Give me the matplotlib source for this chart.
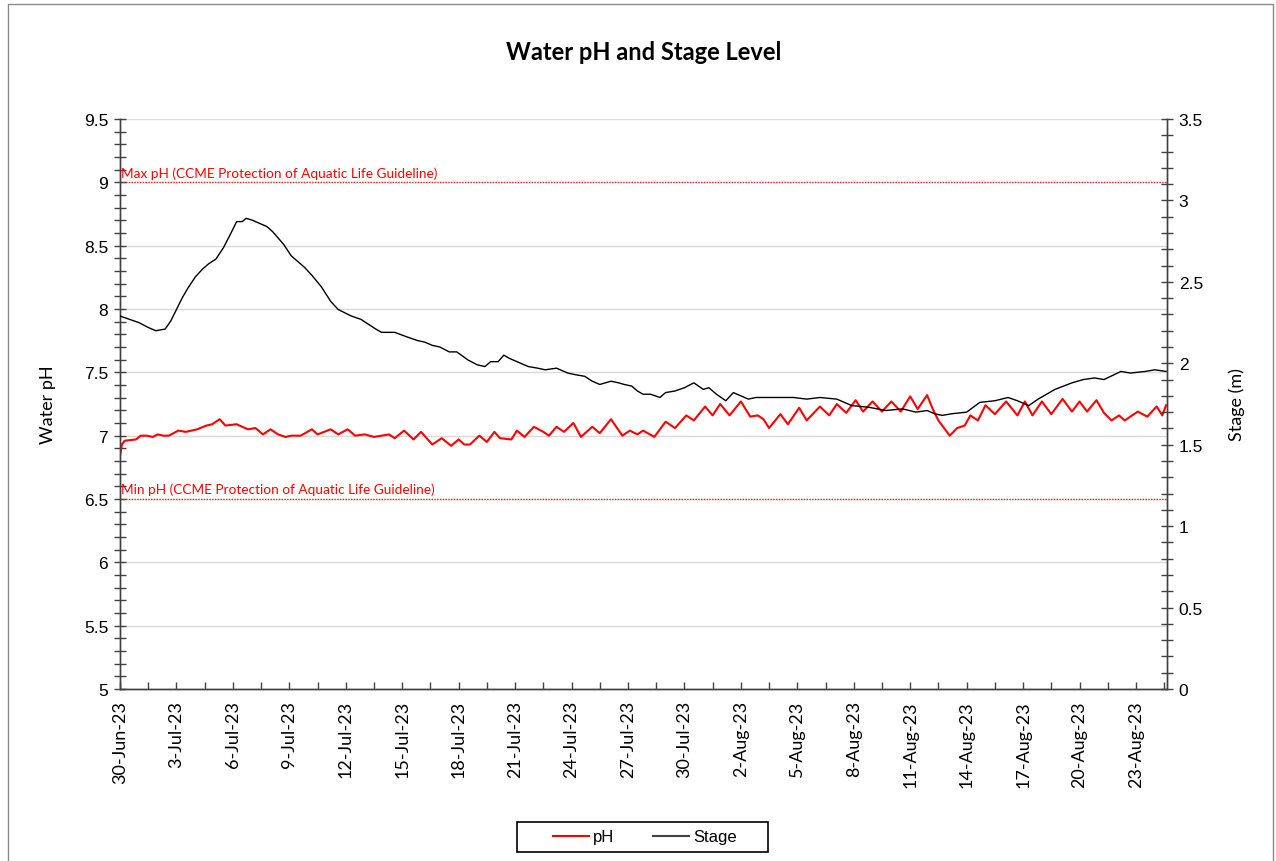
import matplotlib
matplotlib.use("Agg")
import matplotlib.pyplot as plt
import matplotlib.dates as mdates
import numpy as np
import pandas as pd
from matplotlib.patches import Rectangle

# ---------------- data ----------------
start_date = "2023-06-30"

stage_day = [0.0, 0.5, 1.0, 1.5, 1.9, 2.4, 2.7, 3.0, 3.3, 3.6, 4.0, 4.4, 4.7, 5.1, 5.5, 5.9,
             6.2, 6.5, 6.7, 7.0, 7.4, 7.8, 8.1, 8.4, 8.7, 9.1, 9.8, 10.2, 10.7, 11.2, 11.6,
             12.3, 12.8, 13.2, 13.6, 13.9, 14.6, 15.3, 15.8, 16.2, 16.6, 17.0, 17.5, 17.9,
             18.5, 19.0, 19.4, 19.7, 20.1, 20.4, 20.7, 21.1, 21.7, 22.2, 22.6, 23.2, 23.8,
             24.2, 24.7, 25.1, 25.5, 26.1, 26.5, 26.8, 27.2, 27.5, 27.8, 28.2, 28.7, 29.0,
             29.5, 30.0, 30.5, 31.0, 31.3, 31.7, 32.2, 32.6, 33.0, 33.4, 33.8, 34.5, 35.2,
             35.8, 36.5, 37.2, 38.1, 38.9, 39.8, 40.7, 41.6, 42.3, 42.9, 43.3, 43.7, 44.2,
             45.0, 45.7, 46.5, 47.2, 47.7, 48.3, 48.8, 49.7, 50.6, 51.2, 51.8, 52.3, 53.2,
             53.7, 54.5, 55.0, 55.6]
stage_m = [2.29, 2.27, 2.25, 2.22, 2.20, 2.21, 2.26, 2.33, 2.40, 2.46, 2.53, 2.58, 2.61, 2.64,
           2.71, 2.80, 2.87, 2.87, 2.89, 2.88, 2.86, 2.84, 2.81, 2.77, 2.73, 2.66, 2.59, 2.54,
           2.47, 2.38, 2.33, 2.29, 2.27, 2.24, 2.21, 2.19, 2.19, 2.16, 2.14, 2.13, 2.11, 2.10,
           2.07, 2.07, 2.02, 1.99, 1.98, 2.01, 2.01, 2.05, 2.03, 2.01, 1.98, 1.97, 1.96, 1.97,
           1.94, 1.93, 1.92, 1.89, 1.87, 1.89, 1.88, 1.87, 1.86, 1.83, 1.81, 1.81, 1.79, 1.82,
           1.83, 1.85, 1.88, 1.84, 1.85, 1.81, 1.77, 1.82, 1.80, 1.78, 1.79, 1.79, 1.79, 1.79,
           1.78, 1.79, 1.78, 1.74, 1.73, 1.71, 1.72, 1.70, 1.71, 1.69, 1.68, 1.69, 1.70, 1.76,
           1.77, 1.79, 1.77, 1.74, 1.78, 1.84, 1.88, 1.90, 1.91, 1.90, 1.95, 1.94, 1.95, 1.96,
           1.95]

ph_day = [0.0, 0.1, 0.25, 0.85, 1.1, 1.4, 1.75, 2.0, 2.3, 2.6, 3.1, 3.5, 4.1, 4.6, 4.9, 5.3,
          5.6, 6.2, 6.8, 7.2, 7.6, 8.0, 8.4, 8.8, 9.1, 9.6, 10.2, 10.5, 11.2, 11.6, 12.1,
          12.5, 13.0, 13.5, 14.3, 14.6, 15.1, 15.6, 16.0, 16.6, 17.1, 17.6, 18.0, 18.3, 18.6,
          19.1, 19.5, 19.9, 20.2, 20.8, 21.1, 21.5, 22.0, 22.5, 22.8, 23.2, 23.6, 24.1, 24.5,
          25.1, 25.5, 26.1, 26.7, 27.1, 27.5, 27.8, 28.4, 29.0, 29.5, 30.1, 30.5, 31.1, 31.5,
          31.9, 32.4, 33.0, 33.5, 33.9, 34.2, 34.5, 35.1, 35.5, 36.1, 36.5, 37.2, 37.7, 38.1,
          38.6, 39.1, 39.5, 40.0, 40.5, 41.0, 41.5, 42.0, 42.4, 42.9, 43.2, 43.5, 43.8, 44.1,
          44.5, 44.9, 45.2, 45.6, 46.0, 46.5, 47.1, 47.7, 48.1, 48.5, 49.0, 49.5, 50.1, 50.6,
          51.0, 51.4, 51.9, 52.3, 52.7, 53.1, 53.4, 54.1, 54.6, 55.1, 55.4, 55.6]
ph_val = [6.84, 6.93, 6.96, 6.97, 7.00, 7.00, 6.99, 7.01, 7.00, 7.00, 7.04, 7.03, 7.05, 7.08,
          7.09, 7.13, 7.08, 7.09, 7.05, 7.06, 7.01, 7.05, 7.01, 6.99, 7.00, 7.00, 7.05, 7.01,
          7.05, 7.01, 7.05, 7.00, 7.01, 6.99, 7.01, 6.98, 7.04, 6.97, 7.03, 6.93, 6.98, 6.92,
          6.97, 6.93, 6.93, 7.00, 6.95, 7.03, 6.98, 6.97, 7.04, 6.99, 7.07, 7.03, 7.00, 7.07,
          7.03, 7.10, 6.99, 7.07, 7.02, 7.13, 7.00, 7.04, 7.01, 7.04, 6.99, 7.11, 7.06, 7.16,
          7.12, 7.23, 7.16, 7.25, 7.16, 7.27, 7.15, 7.16, 7.13, 7.06, 7.17, 7.09, 7.22, 7.12,
          7.23, 7.16, 7.25, 7.18, 7.28, 7.19, 7.27, 7.19, 7.27, 7.19, 7.31, 7.21, 7.32, 7.21,
          7.12, 7.06, 7.00, 7.06, 7.08, 7.16, 7.12, 7.24, 7.17, 7.27, 7.16, 7.27, 7.16, 7.27,
          7.17, 7.29, 7.19, 7.27, 7.19, 7.28, 7.18, 7.12, 7.16, 7.12, 7.19, 7.15, 7.23, 7.16,
          7.24]

ph_max_guideline = 9.0
ph_min_guideline = 6.5
max_label = "Max pH (CCME Protection of Aquatic Life Guideline)"
min_label = "Min pH (CCME Protection of Aquatic Life Guideline)"

title = "Water pH and Stage Level"
left_label = "Water pH"
right_label = "Stage (m)"
end_offset_days = 55.65

# ---------------- figure ----------------
t0 = pd.Timestamp(start_date)
stage_t = t0 + pd.to_timedelta(stage_day, unit="D")
ph_t = t0 + pd.to_timedelta(ph_day, unit="D")
t_end = t0 + pd.to_timedelta(end_offset_days, unit="D")

W, H = 1276, 862
fig = plt.figure(figsize=(W / 100, H / 100), dpi=100)
fig.patch.set_facecolor("white")
fig.patches.append(Rectangle((8 / W, -0.01), (1273 - 8) / W, 1.01 - 5 / H,
                             transform=fig.transFigure, fill=False,
                             edgecolor="#8c8c8c", linewidth=1.0))

ax = fig.add_axes([120 / W, 1 - 690 / H, (1167 - 120) / W, (690 - 120) / H])
ax2 = ax.twinx()

tick_font = "Liberation Sans"
lab_font = "Lato"

ax.set_ylim(5, 9.5)
ax.set_yticks(np.arange(5, 9.51, 0.5))
ax.set_yticks(np.arange(5, 9.51, 0.1), minor=True)
ax.set_yticklabels([f"{v:g}" for v in np.arange(5, 9.51, 0.5)])
ax2.set_ylim(0, 3.5)
ax2.set_yticks(np.arange(0, 3.51, 0.5))
ax2.set_yticks(np.arange(0, 3.51, 0.1), minor=True)
ax2.set_yticklabels([f"{v:g}" for v in np.arange(0, 3.51, 0.5)])

ax.grid(axis="y", which="major", color="#d9d9d9", linewidth=1.0)
ax.set_axisbelow(True)

# guideline lines
for yv, lbl in [(ph_max_guideline, max_label), (ph_min_guideline, min_label)]:
    ax.axhline(yv, color="#e03030", linewidth=1.0, linestyle=(0, (1, 1)), zorder=2)
    ax.text(t0 + pd.Timedelta(hours=1), yv + 0.03, lbl, color="red", fontsize=9.8,
            family=lab_font, va="bottom", ha="left")

ln1, = ax.plot(ph_t, ph_val, color="red", linewidth=1.5, label="pH", zorder=3)
ln2, = ax2.plot(stage_t, stage_m, color="black", linewidth=1.0, label="Stage", zorder=3)

ax.set_xlim(t0, t_end)
major_ticks = pd.date_range(t0, t_end, freq="3D")
minor_ticks = pd.date_range(t0 + pd.Timedelta(hours=36), t_end, freq="3D")
ax.set_xticks(mdates.date2num(major_ticks))
ax.set_xticks(mdates.date2num(minor_ticks), minor=True)
ax.set_xticklabels([f"{d.day}-{d.strftime('%b-%y')}" for d in major_ticks],
                   rotation=90, family=lab_font, fontsize=13)

for s in ["top"]:
    ax.spines[s].set_visible(False)
    ax2.spines[s].set_visible(False)
for a in (ax, ax2):
    for s in ["left", "right", "bottom"]:
        a.spines[s].set_color("#404040")
        a.spines[s].set_linewidth(1.0)

ax.tick_params(axis="y", which="both", direction="inout", length=9, width=1,
               color="#404040", labelsize=12.5, pad=4)
ax2.tick_params(axis="y", which="both", direction="inout", length=9, width=1,
                color="#404040", labelsize=12.5, pad=4)
ax.tick_params(axis="x", which="both", direction="in", length=5, width=1,
               color="#404040", pad=8)
for lab in ax.get_yticklabels() + ax2.get_yticklabels():
    lab.set_family(tick_font)

ax.set_ylabel(left_label, family=lab_font, fontsize=13, labelpad=20)
ax2.set_ylabel(right_label, family=lab_font, fontsize=13, labelpad=18)

fig.text(644 / W, 1 - 52 / H, title, ha="center", va="center",
         fontsize=17, fontweight="bold", family=lab_font)

# legend: frame drawn as a separate box
fig.patches.append(Rectangle((517 / W, 1 - 853 / H), (768 - 517) / W, 30 / H,
                             transform=fig.transFigure, fill=False,
                             edgecolor="black", linewidth=1.2, zorder=5))
leg = fig.legend(handles=[ln1, ln2], loc="center", bbox_to_anchor=(645 / W, 1 - 838 / H),
                 ncol=2, frameon=False, handlelength=2.15, columnspacing=2.3,
                 handletextpad=0.25, borderpad=0.2,
                 prop={"family": tick_font, "size": 12})
leg.legend_handles[1].set_color("#404040")
leg.legend_handles[1].set_linewidth(1.5)

fig.savefig("out.png", dpi=100)
